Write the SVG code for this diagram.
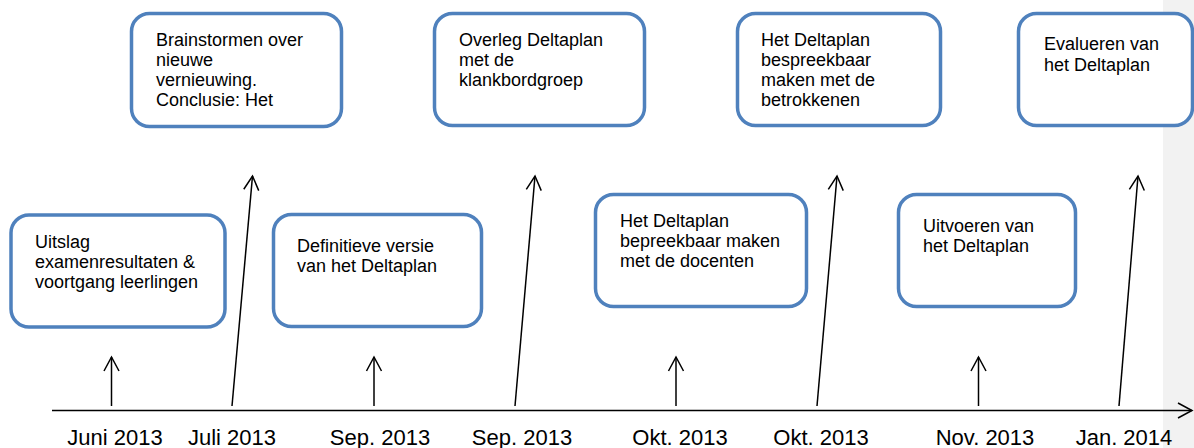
<svg xmlns="http://www.w3.org/2000/svg" width="1194" height="448" viewBox="0 0 1194 448">
<style>
.box{fill:#fff;stroke:#4f81bd;stroke-width:3.5}
.t{font-family:"Liberation Sans",Arial,sans-serif;font-size:18px;fill:#000}
.lbl{font-family:"Liberation Sans",Arial,sans-serif;font-size:22px;fill:#000;text-anchor:middle}
.ln{stroke:#000;stroke-width:1.5;fill:none}
</style>
<defs>
<marker id="ah" markerUnits="userSpaceOnUse" markerWidth="20" markerHeight="20" viewBox="-16 -10 20 20" refX="0" refY="0" orient="auto">
<path d="M-14,-7.5 L0,0 L-14,7.5" fill="none" stroke="#000" stroke-width="1.5"/>
</marker>
</defs>
<rect x="1163" y="0" width="31" height="448" fill="#f2f2f2"/>
<g id="connectors">
<line class="ln" x1="52" y1="410.5" x2="1192" y2="410.5" marker-end="url(#ah)"/>
<line class="ln" x1="111.5" y1="406" x2="111.5" y2="357" marker-end="url(#ah)"/>
<line class="ln" x1="232" y1="406" x2="252.5" y2="176" marker-end="url(#ah)"/>
<line class="ln" x1="374" y1="406" x2="374" y2="357" marker-end="url(#ah)"/>
<line class="ln" x1="515" y1="406" x2="535" y2="176" marker-end="url(#ah)"/>
<line class="ln" x1="676" y1="406" x2="676" y2="357" marker-end="url(#ah)"/>
<line class="ln" x1="817" y1="406" x2="837" y2="176" marker-end="url(#ah)"/>
<line class="ln" x1="978.5" y1="406" x2="978.5" y2="357" marker-end="url(#ah)"/>
<line class="ln" x1="1119" y1="406" x2="1138" y2="176" marker-end="url(#ah)"/>
</g>
<g id="n-uitslag">
<rect class="box" x="11" y="215" width="214" height="112" rx="18"/>
<text class="t" x="35" y="248">Uitslag</text>
<text class="t" x="35" y="268">examenresultaten &amp;</text>
<text class="t" x="35" y="287.5">voortgang leerlingen</text>
</g>
<g id="n-brainstorm">
<rect class="box" x="131.5" y="13.5" width="210" height="113" rx="18"/>
<text class="t" x="156" y="45.5">Brainstormen over</text>
<text class="t" x="156" y="65.5">nieuwe</text>
<text class="t" x="156" y="86">vernieuwing.</text>
<text class="t" x="156" y="106">Conclusie: Het</text>
</g>
<g id="n-definitief">
<rect class="box" x="273.5" y="214.5" width="208" height="112" rx="18"/>
<text class="t" x="297" y="252">Definitieve versie</text>
<text class="t" x="297" y="272">van het Deltaplan</text>
</g>
<g id="n-overleg">
<rect class="box" x="434.5" y="13.5" width="210" height="112" rx="18"/>
<text class="t" x="459" y="45.5">Overleg Deltaplan</text>
<text class="t" x="459" y="65.5">met de</text>
<text class="t" x="459" y="85.5">klankbordgroep</text>
</g>
<g id="n-docenten">
<rect class="box" x="595.5" y="194.5" width="211" height="112" rx="18"/>
<text class="t" x="620" y="227">Het Deltaplan</text>
<text class="t" x="620" y="247">bepreekbaar maken</text>
<text class="t" x="620" y="267">met de docenten</text>
</g>
<g id="n-betrokkenen">
<rect class="box" x="737.5" y="13.5" width="203" height="112" rx="18"/>
<text class="t" x="761" y="45.5">Het Deltaplan</text>
<text class="t" x="761" y="65.5">bespreekbaar</text>
<text class="t" x="761" y="86">maken met de</text>
<text class="t" x="761" y="106">betrokkenen</text>
</g>
<g id="n-uitvoeren">
<rect class="box" x="898.5" y="194.5" width="177" height="112" rx="18"/>
<text class="t" x="923" y="232">Uitvoeren van</text>
<text class="t" x="923" y="252">het Deltaplan</text>
</g>
<g id="n-evalueren">
<rect class="box" x="1018.5" y="13.5" width="174" height="112" rx="18"/>
<text class="t" x="1044" y="50">Evalueren van</text>
<text class="t" x="1044" y="70.5">het Deltaplan</text>
</g>
<g id="labels">
<text class="lbl" x="115" y="445">Juni 2013</text>
<text class="lbl" x="232" y="445">Juli 2013</text>
<text class="lbl" x="380" y="445">Sep. 2013</text>
<text class="lbl" x="522" y="445">Sep. 2013</text>
<text class="lbl" x="680" y="445">Okt. 2013</text>
<text class="lbl" x="821" y="445">Okt. 2013</text>
<text class="lbl" x="985" y="445">Nov. 2013</text>
<text class="lbl" x="1124" y="445">Jan. 2014</text>
</g>
</svg>
